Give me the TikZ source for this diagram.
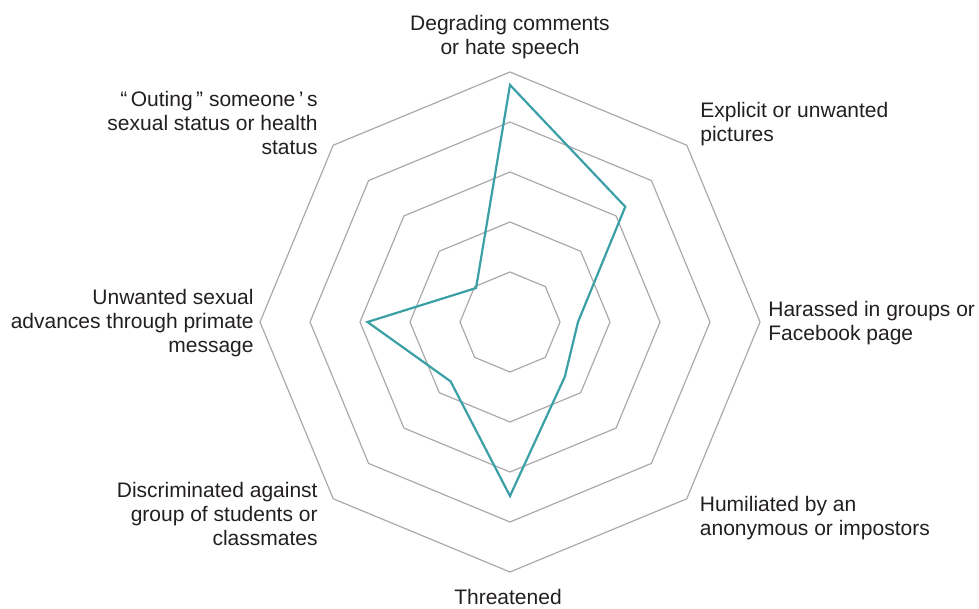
\documentclass[tikz,border=0pt]{standalone}
\usepackage{fontspec}
\setmainfont{Liberation Sans}
\definecolor{gridgray}{RGB}{170,170,170}
\definecolor{dataline}{RGB}{58,160,166}
\definecolor{labeltext}{RGB}{35,31,32}

\begin{document}
\begin{tikzpicture}[x=25pt,y=25pt]
      \useasboundingbox (-10.2,-5.74) rectangle (9.38,6.44);

      % octagon grid
      \begin{scope}[gridgray, line width=.6pt]
        \foreach \r in {1,...,5}
          \draw (90:\r) -- (135:\r) -- (180:\r) -- (225:\r) -- (270:\r)
                -- (315:\r) -- (0:\r) -- (45:\r) -- cycle;
      \end{scope}

      % data values
      \coordinate (d1) at (90:4.74);
      \coordinate (d2) at (45:3.26);
      \coordinate (d3) at (0:1.36);
      \coordinate (d4) at (315:1.55);
      \coordinate (d5) at (270:3.48);
      \coordinate (d6) at (225:1.68);
      \coordinate (d7) at (180:2.85);
      \coordinate (d8) at (135:0.96);
      \draw[dataline, line width=1.1pt]
        (d1) -- (d2) -- (d3) -- (d4) -- (d5) -- (d6) -- (d7) -- (d8) -- cycle;

      \begin{scope}[every node/.style={inner sep=0pt, text=labeltext,
          font=\fontsize{10.5pt}{12pt}\selectfont}]
        \node[anchor=north, align=center] (1) at (0,6.15) {Degrading comments\\or hate speech};
        \node[anchor=north west, align=left] (2) at (3.8,4.4) {Explicit or unwanted\\pictures};
        \node[anchor=north west, align=left] (3) at (5.16,0.42) {Harassed in groups or\\Facebook page};
        \node[anchor=north west, align=left] (4) at (3.79,-3.48) {Humiliated by an\\anonymous or impostors};
        \node[anchor=north, align=center] (5) at (-0.04,-5.34) {Threatened};
        \node[anchor=north east, align=right] (6) at (-3.84,-3.2) {Discriminated against\\group of students or\\classmates};
        \node[anchor=north east, align=right] (7) at (-5.12,0.66) {Unwanted sexual\\advances through primate\\message};
        \node[anchor=north east, align=right] (8) at (-3.84,4.62) {“\,Outing\,”\ someone\,’\,s\\sexual status or health\\status};
      \end{scope}

    \end{tikzpicture}
\end{document}
